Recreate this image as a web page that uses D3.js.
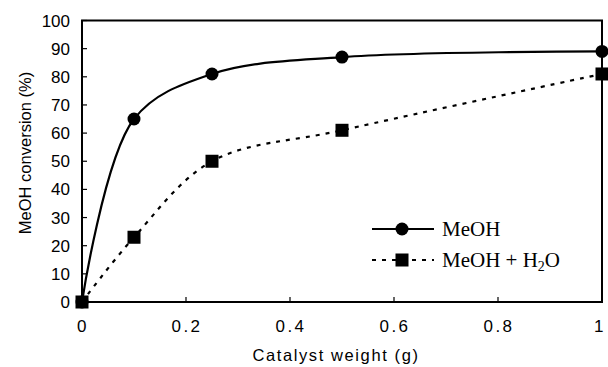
<!DOCTYPE html>
<html>
<head>
<meta charset="utf-8">
<script src="https://cdn.jsdelivr.net/npm/d3@7"></script>
<style>
  body { margin: 0; background: #fff; }
  .tick-label { font-family: "Liberation Sans", Arial, sans-serif; font-size: 17px; fill: #000; }
  .axis-title { font-family: "Liberation Sans", Arial, sans-serif; font-size: 16.5px; fill: #000; }
  .legend-text { font-family: "Liberation Serif", "Times New Roman", serif; font-size: 21px; fill: #000; }
</style>
</head>
<body>
<svg id="chart" width="608" height="367"></svg>
<script>
// catalyst weight (g)
const weights = [0, 0.1, 0.25, 0.5, 1];
// MeOH conversion (%)
const meohValues = [0, 65, 81, 87, 89];
const meohWaterValues = [0, 23, 50, 61, 81];

const xTicks = [0, 0.2, 0.4, 0.6, 0.8, 1];
const yTicks = [0, 10, 20, 30, 40, 50, 60, 70, 80, 90, 100];

const svg = d3.select("#chart");
const plotLeft = 82, plotRight = 602, plotTop = 20.5, plotBottom = 302;

const x = d3.scaleLinear().domain([0, 1]).range([plotLeft, plotRight]);
const y = d3.scaleLinear().domain([0, 100]).range([plotBottom, plotTop]);

// frame
svg.append("rect")
  .attr("x", plotLeft).attr("y", plotTop)
  .attr("width", plotRight - plotLeft).attr("height", plotBottom - plotTop)
  .attr("fill", "none").attr("stroke", "#000").attr("stroke-width", 2);

// y axis ticks (inside)
svg.append("g").selectAll("line").data(yTicks).join("line")
  .attr("x1", plotLeft).attr("x2", plotLeft + 5)
  .attr("y1", d => y(d)).attr("y2", d => y(d))
  .attr("stroke", "#000").attr("stroke-width", 1.2);

svg.append("g").selectAll("text").data(yTicks).join("text")
  .classed("tick-label", true)
  .attr("x", 70).attr("y", d => y(d) + 6)
  .attr("text-anchor", "end")
  .text(d => d);

// x axis ticks (inside)
svg.append("g").selectAll("line").data(xTicks.slice(1, -1)).join("line")
  .attr("x1", d => x(d)).attr("x2", d => x(d))
  .attr("y1", plotBottom).attr("y2", plotBottom - 5)
  .attr("stroke", "#000").attr("stroke-width", 1.2);

svg.append("g").selectAll("text").data(xTicks).join("text")
  .classed("tick-label", true)
  .attr("x", d => x(d) + (d === 1 ? -2 : 1)).attr("y", 332)
  .attr("text-anchor", "middle")
  .attr("letter-spacing", "2.5px")
  .text(d => d === 0 || d === 1 ? String(d) : d3.format(".1f")(d));

// axis titles
svg.append("text")
  .classed("axis-title", true)
  .attr("transform", "translate(31," + 153 + ")rotate(-90)")
  .attr("text-anchor", "middle")
  .text("MeOH conversion (%)");

svg.append("text")
  .classed("axis-title", true)
  .attr("x", 336).attr("y", 361)
  .attr("text-anchor", "middle")
  .attr("letter-spacing", "1.6px")
  .text("Catalyst weight (g)");

const line = d3.line()
  .x(d => x(d[0]))
  .y(d => y(d[1]))
  .curve(d3.curveCatmullRom.alpha(0.5));

const meohPts = weights.map((w, i) => [w, meohValues[i]]);
const waterPts = weights.map((w, i) => [w, meohWaterValues[i]]);

svg.append("path")
  .datum(waterPts)
  .attr("d", line)
  .attr("fill", "none").attr("stroke", "#000")
  .attr("stroke-width", 2.2)
  .attr("stroke-dasharray", "4,6");

svg.append("path")
  .datum(meohPts)
  .attr("d", line)
  .attr("fill", "none").attr("stroke", "#000")
  .attr("stroke-width", 2.2);

svg.append("g").selectAll("circle").data(meohPts).join("circle")
  .attr("cx", d => x(d[0])).attr("cy", d => y(d[1]))
  .attr("r", 6.5).attr("fill", "#000");

svg.append("g").selectAll("rect").data(waterPts).join("rect")
  .attr("x", d => x(d[0]) - 6.5).attr("y", d => y(d[1]) - 6.5)
  .attr("width", 13).attr("height", 13).attr("fill", "#000");

// legend
const legend = svg.append("g").attr("transform", "translate(372,229)");
legend.append("line")
  .attr("x1", 0).attr("x2", 62).attr("y1", 0).attr("y2", 0)
  .attr("stroke", "#000").attr("stroke-width", 2.2);
legend.append("circle").attr("cx", 30).attr("cy", 0).attr("r", 6.5).attr("fill", "#000");
legend.append("text").classed("legend-text", true)
  .attr("x", 70).attr("y", 7).text("MeOH");

legend.append("line")
  .attr("x1", 0).attr("x2", 62).attr("y1", 31).attr("y2", 31)
  .attr("stroke", "#000").attr("stroke-width", 2.2)
  .attr("stroke-dasharray", "4,6");
legend.append("rect").attr("x", 23.5).attr("y", 24.5).attr("width", 13).attr("height", 13).attr("fill", "#000");
const t2 = legend.append("text").classed("legend-text", true)
  .attr("x", 70).attr("y", 38);
t2.append("tspan").text("MeOH + H");
t2.append("tspan").attr("font-size", "14px").attr("dy", 4).text("2");
t2.append("tspan").attr("dy", -4).text("O");
</script>
</body>
</html>
